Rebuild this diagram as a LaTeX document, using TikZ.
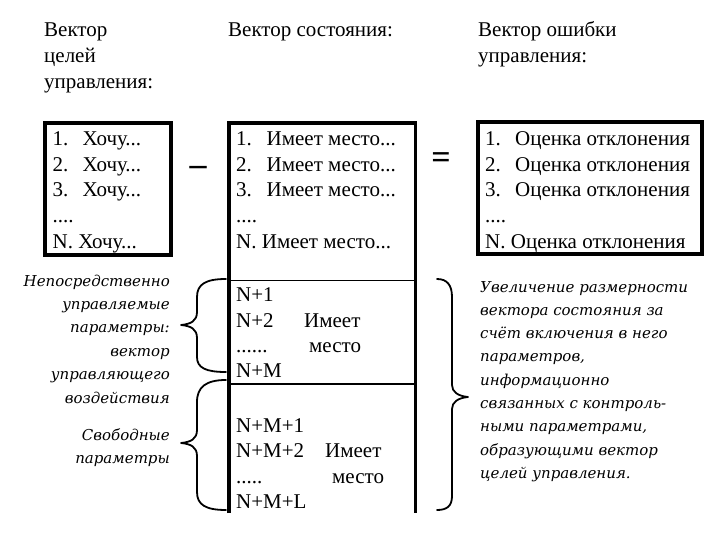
\documentclass[tikz,border=0pt]{standalone}
\usepackage{fontspec}
\setmainfont{Liberation Serif}
\newfontfamily\dvs{DejaVu Serif}
\begin{document}
\begin{tikzpicture}[x=1pt,y=-1pt,
  txt/.style={inner sep=0pt, anchor=base west, font=\fontsize{21}{24}\selectfont},
  itl/.style={inner sep=0pt, anchor=base east, font=\dvs\itshape\fontsize{15}{18}\selectfont},
  itr/.style={inner sep=0pt, anchor=base west, font=\dvs\itshape\fontsize{15}{18}\selectfont},
  frame/.style={draw, line width=4pt, inner sep=0pt},
  thin/.style={line width=1.3pt},
  brace/.style={line width=1.8pt, line cap=round, line join=round},
  op/.style={inner sep=0pt, font=\bfseries\fontsize{34}{40}\selectfont}]
\useasboundingbox[fill=white] (0,0) rectangle (715,540);

% headings
\node[txt] (h1a) at (44,37) {Вектор};
\node[txt] (h1b) at (44,63) {целей};
\node[txt] (h1c) at (44,89) {управления:};
\node[txt] (h2) at (228,37) {Вектор состояния:};
\node[txt] (h3a) at (478,37) {Вектор ошибки};
\node[txt] (h3b) at (478,63) {управления:};

% boxes
\node[frame, minimum width=126.3pt, minimum height=132.3pt] (goals) at (107.85,188.85) {};
\node[frame, minimum width=224pt, minimum height=132.5pt] (errs) at (590,188.25) {};
\coordinate (sbl) at (228.7,513);
\coordinate (stl) at (228.7,122.7);
\coordinate (str) at (415.5,122.7);
\coordinate (sbr) at (415.5,513);
\draw[line width=3.8pt] (sbl) -- (stl) -- (str) -- (sbr);
\coordinate (d1l) at (228.7,280.5); \coordinate (d1r) at (415.5,280.5);
\coordinate (d2l) at (228.7,384);   \coordinate (d2r) at (415.5,384);
\draw[thin] (d1l) -- (d1r);
\draw[thin] (d2l) -- (d2r);

% operators
\node[op] (minus) at (198,171) {–};
\node[op] (equals) at (441,161) {=};

% box 1
\node[txt] (g1) at (52.5,145.7) {\makebox[30pt][l]{1.}Хочу...};
\node[txt] (g2) at (52.5,171.3) {\makebox[30pt][l]{2.}Хочу...};
\node[txt] (g3) at (52.5,196.9) {\makebox[30pt][l]{3.}Хочу...};
\node[txt] (g4) at (52.5,222.5) {....};
\node[txt] (g5) at (52.5,248.1) {N. Хочу...};

% box 2
\node[txt] (s1) at (236,145.7) {\makebox[30.5pt][l]{1.}Имеет место...};
\node[txt] (s2) at (236,171.3) {\makebox[30.5pt][l]{2.}Имеет место...};
\node[txt] (s3) at (236,196.9) {\makebox[30.5pt][l]{3.}Имеет место...};
\node[txt] (s4) at (236,222.5) {....};
\node[txt] (s5) at (236,248.1) {N. Имеет место...};
\node[txt] (p1) at (236,301.5) {N+1};
\node[txt] (p2) at (236,327) {N+2};
\node[txt] (p3) at (236,352) {......};
\node[txt] (p4) at (236,377) {N+M};
\node[txt] (pa) at (304,327) {Имеет};
\node[txt] (pb) at (309,352) {место};
\node[txt] (q1) at (236,432) {N+M+1};
\node[txt] (q2) at (236,457.5) {N+M+2};
\node[txt] (q3) at (236,483) {.....};
\node[txt] (q4) at (236,508.5) {N+M+L};
\node[txt] (qa) at (325,457.5) {Имеет};
\node[txt] (qb) at (332,483) {место};

% box 3
\node[txt] (e1) at (485,145.7) {\makebox[30pt][l]{1.}Оценка отклонения};
\node[txt] (e2) at (485,171.3) {\makebox[30pt][l]{2.}Оценка отклонения};
\node[txt] (e3) at (485,196.9) {\makebox[30pt][l]{3.}Оценка отклонения};
\node[txt] (e4) at (485,222.5) {....};
\node[txt] (e5) at (485,248.1) {N. Оценка отклонения};

% left italic labels
\node[itl] (l1) at (170,286) {Непосредственно};
\node[itl] (l2) at (170,309.4) {управляемые};
\node[itl] (l3) at (170,332.8) {параметры:};
\node[itl] (l4) at (170,356.2) {вектор};
\node[itl] (l5) at (170,379.6) {управляющего};
\node[itl] (l6) at (170,403) {воздействия};
\node[itl] (l7) at (170,440) {Свободные};
\node[itl] (l8) at (170,463.4) {параметры};

% right italic text
\node[itr] (r1) at (480,292) {Увеличение размерности};
\node[itr] (r2) at (480,315.3) {вектора состояния за};
\node[itr] (r3) at (480,338.6) {счёт включения в него};
\node[itr] (r4) at (480,361.9) {параметров,};
\node[itr] (r5) at (480,385.2) {информационно};
\node[itr] (r6) at (480,408.5) {связанных с контроль-};
\node[itr] (r7) at (480,431.8) {ными параметрами,};
\node[itr] (r8) at (480,455.1) {образующими вектор};
\node[itr] (r9) at (480,478.4) {целей управления.};

% braces
\coordinate (b1tip) at (181,325);
\draw[brace] (226,279) .. controls (206,279) and (197,284) .. (197,297) -- (197,312)
  .. controls (197,321) and (191,324) .. (b1tip)
  .. controls (191,326) and (197,329) .. (197,338) -- (197,357)
  .. controls (197,368) and (206,372) .. (226,372);
\coordinate (b2tip) at (181,443);
\draw[brace] (226,380) .. controls (206,380) and (197,387) .. (197,402) -- (197,430)
  .. controls (197,439) and (191,442) .. (b2tip)
  .. controls (191,444) and (197,447) .. (197,456) -- (197,492)
  .. controls (197,505) and (206,510) .. (226,510);
\coordinate (b3tip) at (468,397);
\draw[brace] (437,279) .. controls (447,279) and (452,285) .. (452,297) -- (452,385)
  .. controls (452,392) and (458,396) .. (b3tip)
  .. controls (458,398) and (452,402) .. (452,409) -- (452,496)
  .. controls (452,506) and (447,510) .. (437,510);
\end{tikzpicture}
\end{document}
